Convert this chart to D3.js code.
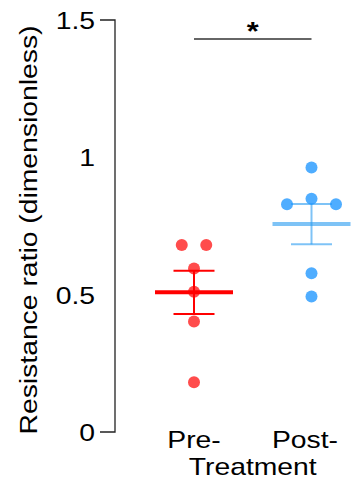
<!DOCTYPE html>
<html><head><meta charset="utf-8">
<script src="https://cdn.jsdelivr.net/npm/d3@7"></script>
<style>html,body{margin:0;padding:0;background:#fff;}svg{display:block;}</style>
</head><body>
<script>
const groups = ["Pre-", "Post-"];
const preValues = [0.681, 0.681, 0.595, 0.511, 0.402, 0.181];
const postValues = [0.963, 0.849, 0.829, 0.829, 0.578, 0.493];
const yTicks = [0, 0.5, 1, 1.5];
const yTickLabels = ["0", "0.5", "1", "1.5"];
const yTitle = "Resistance ratio (dimensionless)";
const xTitle = "Treatment";
const sigLabel = "*";

const W = 354, H = 479;
const svg = d3.select("body").append("svg").attr("width", W).attr("height", H);
const font = "Liberation Sans, Arial, sans-serif";
const SX = 1.18; // horizontal stretch of glyphs seen in the reference

const y = d3.scaleLinear().domain([0, 1.5]).range([432, 20]);
const x = d3.scalePoint().domain(groups).range([194, 311.5]);

const styles = {
  "Pre-": {dot: "rgba(255,0,0,0.7)", line: "#ff0000"},
  "Post-": {dot: "rgba(30,150,255,0.78)", line: "rgba(40,155,240,0.6)"}
};
const data = [{g: "Pre-", v: preValues}, {g: "Post-", v: postValues}];

function label(px, py, str, opts = {}) {
  const t = svg.append("text")
    .attr("transform", `translate(${px},${py})${opts.rotate ? " rotate(" + opts.rotate + ")" : ""} scale(${SX},1)`)
    .attr("text-anchor", opts.anchor || "middle")
    .attr("font-family", font).attr("font-size", opts.size || 24)
    .attr("fill", "#000").text(str);
  if (opts.weight) t.attr("font-weight", opts.weight);
  return t;
}

// axis
const axis = d3.axisLeft(y).tickValues(yTicks).tickFormat((d, i) => yTickLabels[i]).tickSize(15).tickPadding(4);
const ax = svg.append("g").attr("transform", "translate(115,0)").call(axis);
ax.select(".domain").attr("d", `M-15,${y(1.5)}H0V${y(0)}H-15`).attr("stroke", "#222").attr("stroke-width", 1.3);
ax.selectAll(".tick line").remove();
ax.selectAll(".tick text").attr("font-family", font).attr("font-size", 24).attr("fill", "#000")
  .attr("dy", "0.35em").attr("x", null).attr("transform", `translate(-20,0) scale(${SX},1)`);

label(37, 230, yTitle, {rotate: -90});

// group labels
groups.forEach(g => label(x(g) + (g === "Post-" ? -6.5 : 0), 448, g));
label((x("Pre-") + x("Post-")) / 2, 474.5, xTitle);

// significance
svg.append("line").attr("x1", x("Pre-")).attr("x2", x("Post-")).attr("y1", 39).attr("y2", 39)
  .attr("stroke", "#333").attr("stroke-width", 1.3);
label((x("Pre-") + x("Post-")) / 2, 40, sigLabel, {size: 26, weight: "bold"});

const r = 6, spacing = 24.5;
data.forEach(d => {
  const cx = x(d.g);
  const m = d3.mean(d.v);
  const sem = d3.deviation(d.v) / Math.sqrt(d.v.length);
  const st = styles[d.g];
  const gg = svg.append("g");
  gg.append("line").attr("x1", cx - 39).attr("x2", cx + 39).attr("y1", y(m)).attr("y2", y(m))
    .attr("stroke", st.line).attr("stroke-width", 4);
  gg.append("line").attr("x1", cx).attr("x2", cx).attr("y1", y(m + sem)).attr("y2", y(m - sem))
    .attr("stroke", st.line).attr("stroke-width", 2);
  [m + sem, m - sem].forEach(v => {
    gg.append("line").attr("x1", cx - 20.5).attr("x2", cx + 20.5).attr("y1", y(v)).attr("y2", y(v))
      .attr("stroke", st.line).attr("stroke-width", 2);
  });
  const sorted = d.v.slice().sort((a, b) => b - a);
  const clusters = [];
  sorted.forEach(v => {
    const last = clusters[clusters.length - 1];
    if (last && Math.abs(y(v) - y(last[0])) < 2 * r) last.push(v); else clusters.push([v]);
  });
  const pts = [];
  clusters.forEach(c => {
    const n = c.length;
    let slots;
    if (n % 2 === 1) {
      slots = [0];
      for (let k = 1; slots.length < n; k++) { slots.push(-k); if (slots.length < n) slots.push(k); }
    } else {
      slots = [];
      for (let k = 0; slots.length < n; k++) { slots.push(-(k + 0.5)); slots.push(k + 0.5); }
    }
    c.forEach((v, i) => pts.push({v, dx: slots[i] * spacing}));
  });
  gg.selectAll("circle").data(pts).enter().append("circle")
    .attr("cx", p => cx + p.dx).attr("cy", p => y(p.v)).attr("r", r).attr("fill", st.dot);
});
</script>
</body></html>
